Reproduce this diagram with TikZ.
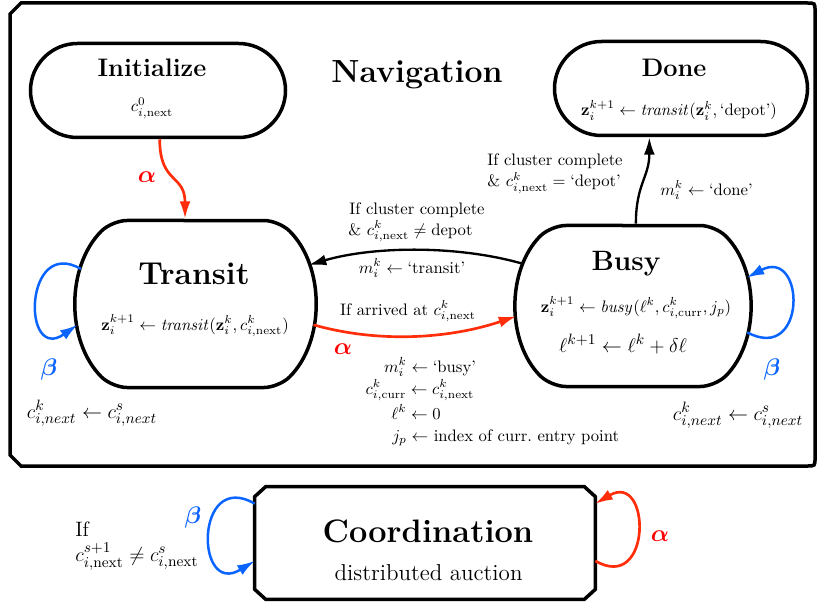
\documentclass[tikz,border=0pt]{standalone}
\usepackage{amsmath,amssymb,bm}
\usetikzlibrary{shapes.misc,arrows.meta,calc}
\definecolor{ared}{RGB}{255,45,10}
\definecolor{alphared}{RGB}{255,0,0}
\definecolor{bblue}{RGB}{10,100,255}
\begin{document}
\begin{tikzpicture}[x=0.6pt,y=-0.6pt,
  shapeline/.style={draw=black,line width=2.1pt,fill=white},
  stadium/.style={shapeline,rounded rectangle,inner sep=0pt},
  barrel/.style={shapeline,rounded rectangle,rounded rectangle arc length=90,inner sep=0pt,rounded corners=9pt},
  plainbox/.style={rectangle,draw=none,inner sep=0pt},
  tip/.style={-{Latex[length=10.5pt,width=6.6pt]}},
  redarrow/.style={draw=ared,line width=1.6pt,tip},
  blackarrow/.style={draw=black,line width=1.4pt,tip},
  bluearrow/.style={draw=bblue,line width=1.5pt,tip},
  navfont/.style={font=\fontsize{19.2}{23}\selectfont\bfseries},
  bigtitle/.style={font=\fontsize{19}{23}\selectfont\bfseries},
  midtitle/.style={font=\fontsize{16.8}{20}\selectfont\bfseries},
  smalltitle/.style={font=\fontsize{15.2}{18}\selectfont\bfseries},
  coordtitle/.style={font=\fontsize{19.5}{23}\selectfont\bfseries},
  subtext/.style={font=\fontsize{13.8}{16}\selectfont},
  lbl/.style={font=\fontsize{10}{12}\selectfont,inner sep=0pt},
  biglbl/.style={font=\fontsize{12.5}{15}\selectfont,inner sep=0pt},
  greek/.style={font=\fontsize{15}{18}\selectfont,inner sep=0pt},
  txt/.style={inner sep=0pt}
]
\useasboundingbox (0,0) rectangle (817,603);
\fill[white] (0,0) rectangle (817,603);
% Navigation frame
\draw[line width=2.1pt] (10,14) -- (21,3) -- (807,3) .. controls (815,3) .. (815,11)
  -- (815,458) .. controls (815,466) .. (807,466) -- (21,466) -- (10,455) -- cycle;
\node[navfont,txt,anchor=base] (navT) at (417,83) {Navigation};

% States
\node[stadium,minimum width={255*0.6},minimum height={94*0.6}] (init) at (158,90.5) {};
\node[smalltitle,txt,anchor=base] (initT) at (152,77) {Initialize};
\node[lbl,anchor=base] (initF) at (152,112) {$c^0_{i,\mathrm{next}}$};

\node[stadium,minimum width={253*0.6},minimum height={94*0.6}] (done) at (681,88.5) {};
\node[smalltitle,txt,anchor=base] (doneT) at (674,77) {Done};
\node[lbl,anchor=base] (doneF) at (679,116) {$\mathbf{z}_i^{k+1} \leftarrow \mathit{transit}(\mathbf{z}_i^k, \text{`depot'})$};

\node[barrel,minimum width={232*0.6},minimum height={167*0.6}] (transit) at (195.5,304) {};
\node[bigtitle,txt,anchor=base] (transitT) at (194,284) {Transit};
\node[lbl,anchor=base] (transitF) at (195,330) {$\mathbf{z}_i^{k+1} \leftarrow \mathit{transit}(\mathbf{z}_i^k, c^k_{i,\mathrm{next}})$};

\node[barrel,minimum width={231*0.6},minimum height={161*0.6}] (busy) at (633,306) {};
\node[midtitle,txt,anchor=base] (busyT) at (626,270) {Busy};
\node[lbl,anchor=base] (busyF1) at (636,312) {$\mathbf{z}_i^{k+1} \leftarrow \mathit{busy}(\ell^k, c^k_{i,\mathrm{curr}}, j_p)$};
\node[biglbl,anchor=base] (busyF2) at (623,352) {$\ell^{k+1} \leftarrow \ell^k + \delta\ell$};

\node[plainbox,minimum width={340*0.6},minimum height={112*0.6}] (coord) at (425,543) {};
\draw[shapeline] ($(coord.north west)+(11,0)$) -- ($(coord.north east)+(-11,0)$)
  -- ($(coord.north east)+(0,10)$) -- ($(coord.south east)+(0,-10)$)
  -- ($(coord.south east)+(-11,0)$) -- ($(coord.south west)+(11,0)$)
  -- ($(coord.south west)+(0,-10)$) -- ($(coord.north west)+(0,10)$) -- cycle;
\node[coordtitle,txt,anchor=base] (coordT) at (428,542) {Coordination};
\node[subtext,txt,anchor=base] (coordS) at (428.6,580) {distributed auction};

% Connectors
\draw[redarrow] (init.-88) .. controls +(0,45) and +(0,-45) .. (transit.97);
\draw[redarrow] (transit.-10) .. controls +(67,19) and +(-65,22) .. (busy.185);
\draw[blackarrow] (busy.159) .. controls +(-65,-19) and +(65,-19) .. (transit.19);
\draw[blackarrow] (busy.88) .. controls +(0,-40) and +(0,40) .. (done.-123);
\draw[bluearrow] (transit.163) .. controls +(-57,-33) and +(-56,39) .. (transit.190);
\draw[bluearrow] (busy.-13) .. controls +(60,32) and +(59,-31) .. (busy.14);
\draw[bluearrow] (coord.167.5) .. controls +(-60,-35) and +(-60,37) .. (coord.186.6);
\draw[redarrow] (coord.-6.3) .. controls +(57,33) and +(56,-33) .. (coord.13);

% Labels
\node[greek,text=alphared,anchor=base] (a1) at (147,182) {$\boldsymbol{\alpha}$};
\node[lbl,anchor=base west] (l1) at (349,214) {If cluster complete};
\node[lbl,anchor=base west] (l2) at (348,235) {\& $c^k_{i,\mathrm{next}} \neq \text{depot}$};
\node[lbl,anchor=base] (l3) at (412,273) {$m_i^k \leftarrow \text{`transit'}$};
\node[lbl,anchor=base] (l4) at (408,315) {If arrived at $c^k_{i,\mathrm{next}}$};
\node[greek,text=alphared,anchor=base] (a2) at (343,354) {$\boldsymbol{\alpha}$};
\node[lbl,anchor=base] (l5) at (430,372) {$m_i^k \leftarrow \text{`busy'}$};
\node[lbl,anchor=base] (l6) at (420,394) {$c^k_{i,\mathrm{curr}} \leftarrow c^k_{i,\mathrm{next}}$};
\node[lbl,anchor=base west] (l7) at (391,419) {$\ell^k \leftarrow 0$};
\node[lbl,anchor=base west] (l8) at (392,441) {$j_p \leftarrow$ index of curr.\ entry point};
\node[lbl,anchor=base west] (l9) at (487,166) {If cluster complete};
\node[lbl,anchor=base west] (l10) at (487,187) {\& $c^k_{i,\mathrm{next}} = \text{`depot'}$};
\node[lbl,anchor=base west] (l11) at (660,195) {$m_i^k \leftarrow \text{`done'}$};
\node[greek,text=bblue,anchor=base] (b1) at (49,375) {$\boldsymbol{\beta}$};
\node[biglbl,anchor=base] (l12) at (92,418) {$c_{i,next}^k \leftarrow c_{i,next}^s$};
\node[greek,text=bblue,anchor=base] (b2) at (772,375) {$\boldsymbol{\beta}$};
\node[biglbl,anchor=base] (l13) at (738,420) {$c_{i,next}^k \leftarrow c_{i,next}^s$};
\node[greek,text=bblue,anchor=base] (b3) at (193,523) {$\boldsymbol{\beta}$};
\node[greek,text=alphared,anchor=base] (a3) at (660,541) {$\boldsymbol{\alpha}$};
\node[biglbl,anchor=base west] (l14) at (75,536) {If};
\node[biglbl,anchor=base west] (l15) at (75,561) {$c^{s+1}_{i,\mathrm{next}} \neq c^s_{i,\mathrm{next}}$};
\end{tikzpicture}
\end{document}
